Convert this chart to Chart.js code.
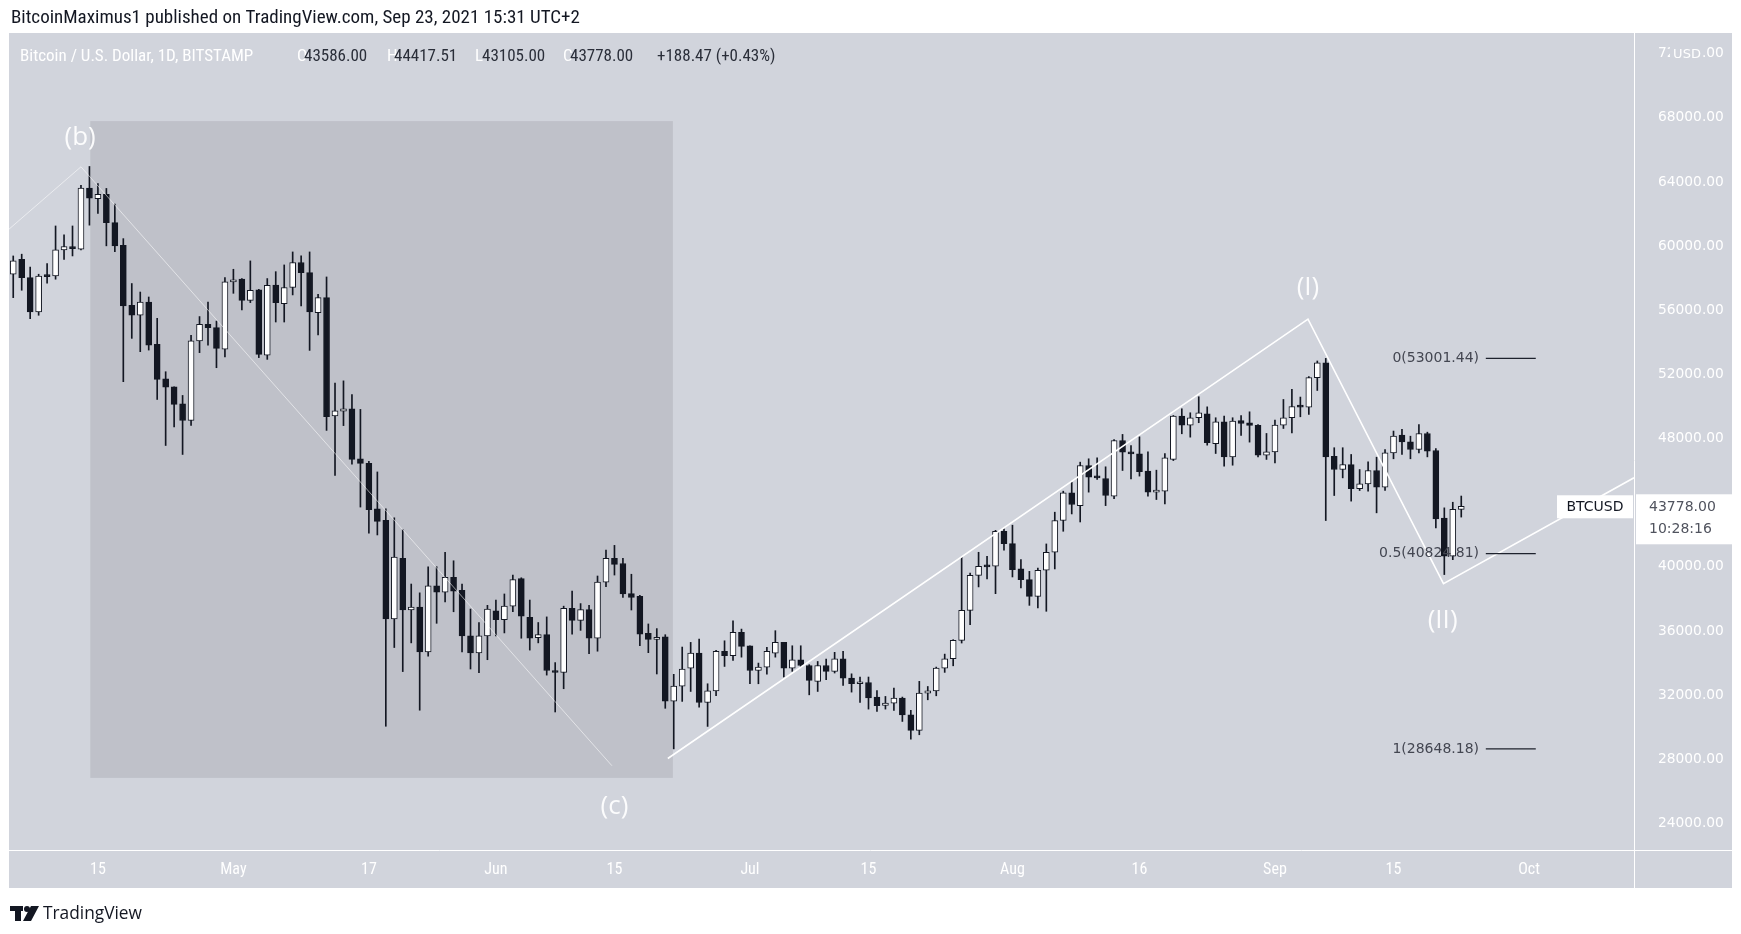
<!DOCTYPE html>
<html>
<head>
<meta charset="utf-8">
<title>BTCUSD 1D</title>
<script src="https://cdn.jsdelivr.net/npm/chart.js@4.4.0/dist/chart.umd.min.js"></script>
<style>
  html, body { margin: 0; padding: 0; background: #fff; }
  #chart { display: block; }
</style>
</head>
<body>
<canvas id="chart" width="1741" height="934"></canvas>
<script>
// first candle is Apr 5 2021, x = days from Apr 15
const firstOffset = -10

const opens = [
  58250, 59180, 58040, 55900, 58140, 58140, 59770, 59980, 59810, 63620, 62970, 63240, 61470, 60060, 56310, 55690, 56520, 53880, 51730, 51230, 50170, 49130, 54090, 55130, 54920, 53570,
  57770, 57940, 56620, 57270, 53210, 57580, 56420, 57420, 58980, 58350, 55860, 56790, 49420, 49710, 49860, 46740, 46450, 43620, 42900, 36750, 40540, 37310, 37490, 34700, 38820, 38420, 39340, 38530, 35700, 34630, 35700,
  37260, 36710, 37550, 39270, 36860, 35590, 35770, 33540, 33410, 37420, 36660, 37330, 35550, 39050, 40540, 40210, 38330, 38160, 35860, 35480, 35640, 31620, 32560, 33690, 34620, 31540, 32270, 34730, 34460, 35910,
  35080, 33540, 33750, 34620, 35290, 33690, 34210, 33850, 32860, 33850, 33480, 34270, 33060, 32710, 32790, 31880, 31360, 31500, 31820, 30770, 29800, 32130, 32270, 33690, 34270, 35420, 37290, 39470, 40040, 40040, 42220,
  41450, 39870, 39200, 38160, 39790, 40910, 42890, 44620, 43820, 46320, 45590, 45510, 44410, 47880, 47170, 47050, 45970, 44660, 44720, 46700, 49400, 48840, 49300, 49550, 47690, 49050, 46860, 49130, 48990, 48820, 46970,
  47170, 48840, 49300, 50030, 49960, 51800, 52730, 46900, 46070, 46380, 44870, 45180, 46010, 44970, 47110, 48220, 47800, 47320, 48320, 47260, 43050, 40660, 43586
]
const highs = [
  59390, 59500, 58700, 58250, 58910, 61260, 60700, 61260, 63800, 64970, 63910, 63600, 62620, 60470, 57670, 57140, 56830, 55500, 52170, 51230, 50690, 54440, 55610, 56520, 55330, 58040,
  58560, 57980, 59080, 57310, 57980, 58410, 58830, 59640, 59390, 59640, 57000, 58080, 51460, 51600, 50750, 49820, 46580, 45920, 43620, 43060, 42320, 38930, 38380, 40010, 40010, 40900, 40380, 38930, 37370, 36530, 37600,
  37930, 38310, 39490, 39320, 37930, 36530, 36880, 34030, 37550, 38490, 37710, 37600, 39430, 41050, 41340, 40540, 39540, 38220, 36440, 36150, 35770, 33300, 35000, 35290, 35500, 32710, 34790, 35390, 36640, 36120,
  35080, 34000, 34980, 36020, 35290, 35080, 35080, 33900, 34100, 34250, 34670, 34730, 33330, 33130, 33130, 32290, 31920, 32440, 31880, 31050, 32860, 32540, 33750, 34560, 35460, 40600, 39620, 40910, 40660, 42280, 42370,
  42600, 40450, 39720, 39930, 41430, 43410, 44720, 45280, 46530, 46740, 46800, 46240, 47940, 48260, 47570, 48110, 47170, 46030, 47070, 49440, 49860, 49610, 50610, 49980, 49300, 49400, 49300, 49440, 49670, 48880, 48320,
  49150, 50440, 51070, 50590, 51860, 52840, 53001.44, 47430, 47430, 47010, 46070, 46550, 46840, 47320, 48470, 48570, 48150, 48880, 48400, 47380, 43680, 44030, 44417.51
]
const lows = [
  56790, 57250, 55480, 55690, 57690, 57940, 59180, 59390, 59770, 61310, 62040, 60020, 59660, 51550, 54250, 53420, 53520, 50440, 47570, 48720, 47010, 48820, 53360, 53820, 52420, 53090,
  57060, 56020, 56480, 53050, 52940, 55270, 55270, 56960, 56270, 53500, 54460, 48510, 45700, 48810, 46410, 43730, 42100, 41990, 30060, 34970, 33470, 35260, 31060, 34430, 36480, 37820, 37200, 34700, 33630, 33400, 34210,
  35700, 35880, 37200, 35550, 34810, 35260, 33250, 30950, 32400, 35810, 36040, 34590, 34740, 38760, 39490, 38090, 37310, 35080, 34650, 33320, 31180, 28648.18, 31610, 32230, 31250, 30050, 31960, 33790, 34170, 34370,
  32710, 32710, 33310, 34370, 33130, 33480, 33750, 32020, 32230, 32960, 33380, 32600, 32190, 31540, 31130, 30980, 31130, 31050, 30360, 29260, 29530, 31710, 31960, 33420, 33830, 35250, 36400, 38750, 39250, 38330, 41040,
  39370, 38680, 37600, 37440, 37230, 39870, 42220, 43300, 42800, 44660, 45450, 43820, 44260, 46010, 45490, 45660, 44410, 44200, 43930, 46630, 48300, 48090, 48990, 47590, 47070, 46280, 46340, 48190, 47780, 46860, 46700,
  46490, 48630, 48360, 49360, 49510, 51000, 42890, 44450, 45550, 44100, 44760, 44720, 43370, 44760, 46740, 47010, 46740, 47110, 46860, 42430, 39520, 40450, 43105
]
const closes = [
  59080, 58040, 55900, 58140, 58100, 59770, 59980, 59850, 63620, 62990, 63240, 61470, 60020, 56270, 55690, 56520, 53820, 51690, 51210, 50130, 49130, 54090, 55130, 54920, 53630, 57770,
  57830, 56620, 57250, 53250, 57560, 56480, 57420, 58980, 58350, 55900, 56790, 49360, 49730, 49860, 46700, 46450, 43570, 42840, 36750, 40610, 37310, 37490, 34700, 38820, 38420, 39340, 38490, 35700, 34630, 35700, 37370,
  36710, 37550, 39200, 36930, 35550, 35770, 33540, 33410, 37420, 36660, 37330, 35550, 39050, 40540, 40160, 38310, 38090, 35810, 35480, 35550, 31620, 32560, 33630, 34620, 31540, 32270, 34730, 34460, 35910, 35040,
  33540, 33750, 34730, 35290, 33690, 34210, 33850, 32920, 33850, 33480, 34270, 33060, 32710, 32750, 31820, 31340, 31500, 31820, 30770, 29800, 32130, 32270, 33690, 34270, 35420, 37290, 39470, 40040, 40000, 42220, 41450,
  39830, 39200, 38160, 39790, 40910, 42890, 44620, 43890, 46320, 45590, 45550, 44450, 47880, 47150, 47050, 45930, 44660, 44720, 46800, 49400, 48840, 49300, 49610, 47740, 49050, 46860, 49090, 48940, 48820, 46970, 47170,
  48840, 49300, 50000, 49960, 51800, 52730, 46860, 46070, 46380, 44870, 45180, 46010, 44970, 47110, 48150, 47800, 47320, 48320, 47220, 42990, 40660, 43590, 43778
]

const xTickDays = [0, 16, 32, 47, 61, 77, 91, 108, 123, 139, 153, 169]
const xTickLabels = ['15', 'May', '17', 'Jun', '15', 'Jul', '15', 'Aug', '16', 'Sep', '15', 'Oct']
const priceTicks = [24000, 28000, 32000, 36000, 40000, 44000, 48000, 52000, 56000, 60000, 64000, 68000, 72000]

// drawings made on the chart
const lineBC = [{ x: -10.5, y: 61060 }, { x: -2, y: 64950 }, { x: 60.7, y: 27600 }]
const lineImpulse = [{ x: 67.3, y: 28050 }, { x: 142.9, y: 55450 }, { x: 158.9, y: 38950 }, { x: 181.4, y: 45560 }]
const boxX = [-0.9, 67.9]
const boxY = [26840, 67800]
const waveLabels = ['(b)', '(c)', '(I)', '(II)']
const waveX = [-2.1, 61, 142.9, 158.8]
const waveY = [66745, 25030, 57434, 36642]
const fibLevels = [53001.44, 40824.81, 28648.18]
const fibNames = ['0', '0.5', '1']

const header = 'BitcoinMaximus1 published on TradingView.com, Sep 23, 2021 15:31 UTC+2'
const symbolTitle = 'Bitcoin / U.S. Dollar, 1D, BITSTAMP'
const changeText = '+188.47 (+0.43%)'

const BG = '#d1d4dc'
const DARK = '#131722'
const NARROW = '"Liberation Sans Narrow", "Roboto Condensed", "Open Sans", sans-serif'

const last = closes.length - 1
const bodies = opens.map((o, i) => ({ x: i + firstOffset, y: [o, closes[i]] }))
const wicks = lows.map((l, i) => ({ x: i + firstOffset, y: [l, highs[i]] }))

function fitText (c, text, x, y, w) {
  const m = c.measureText(text).width
  c.save()
  c.translate(x, y)
  if (w && m > w) c.scale(w / m, 1)
  c.fillText(text, 0, 0)
  c.restore()
}

const panel = {
  id: 'panel',
  beforeDraw (chart) {
    const c = chart.ctx
    const a = chart.chartArea
    const right = chart.scales.y.right
    const bottom = chart.scales.x.bottom
    c.save()
    c.fillStyle = '#ffffff'
    c.fillRect(0, 0, chart.width, chart.height)
    c.fillStyle = BG
    c.fillRect(a.left, a.top, right - a.left, bottom - a.top)
    c.strokeStyle = '#ffffff'
    c.lineWidth = 1
    c.beginPath()
    c.moveTo(a.right + 0.5, a.top)
    c.lineTo(a.right + 0.5, bottom)
    c.moveTo(a.left, a.bottom + 0.5)
    c.lineTo(right, a.bottom + 0.5)
    c.stroke()
    c.restore()
  },
  beforeDatasetsDraw (chart) {
    const c = chart.ctx
    const sx = chart.scales.x
    const sy = chart.scales.y
    const x0 = sx.getPixelForValue(boxX[0])
    const x1 = sx.getPixelForValue(boxX[1])
    const y0 = sy.getPixelForValue(boxY[1])
    const y1 = sy.getPixelForValue(boxY[0])
    c.save()
    c.fillStyle = '#bfc1c9'
    c.fillRect(x0, y0, x1 - x0, y1 - y0)
    c.restore()
  },
  afterDraw (chart) {
    const c = chart.ctx
    const a = chart.chartArea
    const sx = chart.scales.x
    const sy = chart.scales.y
    c.save()
    c.textBaseline = 'middle'

    // header above the panel
    c.fillStyle = DARK
    c.font = '19px ' + NARROW
    fitText(c, header, 11, 18, 573)

    // symbol legend
    c.font = '17px ' + NARROW
    c.fillStyle = '#ffffff'
    fitText(c, symbolTitle, 20, 57, 268)
    const ohlc = [['O', opens[last]], ['H', highs[last]], ['L', lows[last]], ['C', closes[last]]]
    const ohlcX = [297, 387, 475, 563]
    ohlc.forEach((p, i) => {
      c.fillStyle = '#ffffff'
      c.fillText(p[0], ohlcX[i], 57)
      c.fillStyle = '#2a2e39'
      fitText(c, p[1].toFixed(2), ohlcX[i] + 7, 57, 80)
    })
    fitText(c, changeText, 657, 57, 131)

    // wave labels
    c.fillStyle = 'rgba(255,255,255,0.92)'
    c.font = '26px "Open Sans", "DejaVu Sans", sans-serif'
    c.textAlign = 'center'
    waveLabels.forEach((t, i) => {
      c.fillText(t, sx.getPixelForValue(waveX[i]), sy.getPixelForValue(waveY[i]))
    })

    // fib levels
    c.font = '14px "DejaVu Sans", sans-serif'
    c.textAlign = 'right'
    c.strokeStyle = '#1e222d'
    c.lineWidth = 1.4
    fibLevels.forEach((v, i) => {
      const y = sy.getPixelForValue(v)
      c.fillStyle = '#434651'
      c.fillText(fibNames[i] + '(' + v.toFixed(2) + ')', sx.getPixelForValue(163.1), y)
      c.beginPath()
      c.moveTo(sx.getPixelForValue(163.9), y)
      c.lineTo(sx.getPixelForValue(169.8), y)
      c.stroke()
    })

    // symbol tag at the right edge of the plot
    const py = sy.getPixelForValue(closes[last])
    c.fillStyle = '#ffffff'
    c.fillRect(a.right - 77, py - 11, 76, 23)
    c.fillStyle = DARK
    c.textAlign = 'center'
    c.fillText('BTCUSD', a.right - 39, py + 1)

    // last price tag on the price axis
    c.fillStyle = '#ffffff'
    c.fillRect(a.right + 2, py - 12, 96, 50)
    c.fillStyle = '#50535e'
    c.textAlign = 'left'
    c.font = '14px "DejaVu Sans", sans-serif'
    c.fillText(closes[last].toFixed(2), a.right + 15, py + 1)
    c.fillText('10:28:16', a.right + 15, py + 23)

    // currency over the top tick
    const uy = sy.getPixelForValue(72000)
    c.fillStyle = BG
    c.fillRect(a.right + 36, uy - 10, 33, 20)
    c.fillStyle = '#ffffff'
    c.textAlign = 'center'
    c.font = '13px "DejaVu Sans", sans-serif'
    c.fillText('USD', a.right + 53, uy + 1)

    // footer logo and name
    c.fillStyle = DARK
    c.fillRect(10, 906, 13, 5)
    c.fillRect(15, 906, 6, 15)
    c.beginPath()
    c.arc(27, 909, 3, 0, Math.PI * 2)
    c.fill()
    c.beginPath()
    c.moveTo(31, 906)
    c.lineTo(39, 906)
    c.lineTo(31, 921)
    c.lineTo(23, 921)
    c.closePath()
    c.fill()
    c.textAlign = 'left'
    c.font = '19px "Open Sans", sans-serif'
    fitText(c, 'TradingView', 43, 914, 99)

    c.restore()
  }
}

new Chart(document.getElementById('chart'), {
  type: 'bar',
  data: {
    datasets: [
      {
        type: 'line',
        label: 'b-c',
        data: lineBC,
        borderColor: 'rgba(255,255,255,0.55)',
        borderWidth: 1,
        pointRadius: 0,
        tension: 0,
        order: 1
      },
      {
        type: 'line',
        label: 'impulse',
        data: lineImpulse,
        borderColor: '#ffffff',
        borderWidth: 1.6,
        pointRadius: 0,
        tension: 0,
        order: 0
      },
      {
        label: 'body',
        data: bodies,
        backgroundColor: (ctx) => (ctx.dataIndex !== undefined && closes[ctx.dataIndex] < opens[ctx.dataIndex]) ? DARK : '#ffffff',
        borderColor: DARK,
        borderWidth: 1,
        borderSkipped: false,
        barThickness: 6,
        minBarLength: 2,
        grouped: false,
        order: 2
      },
      {
        label: 'wick',
        data: wicks,
        backgroundColor: DARK,
        barThickness: 1,
        grouped: false,
        order: 3
      }
    ]
  },
  options: {
    responsive: false,
    animation: false,
    layout: { padding: { left: 9, top: 33, right: 9, bottom: 46 } },
    plugins: { legend: { display: false }, tooltip: { enabled: false } },
    scales: {
      x: {
        type: 'linear',
        min: -10.5,
        max: 181.4,
        offset: false,
        grid: { display: false },
        border: { display: false },
        afterBuildTicks: (s) => { s.ticks = xTickDays.map(v => ({ value: v })) },
        afterFit: (s) => { s.height = 38 },
        ticks: {
          autoSkip: false,
          maxRotation: 0,
          color: '#ffffff',
          padding: 2,
          font: { family: NARROW, size: 16 },
          callback: (v) => xTickLabels[xTickDays.indexOf(v)]
        }
      },
      y: {
        type: 'linear',
        position: 'right',
        min: 22343,
        max: 73294,
        grid: { display: false },
        border: { display: false },
        afterBuildTicks: (s) => { s.ticks = priceTicks.map(v => ({ value: v })) },
        afterFit: (s) => { s.width = 98 },
        ticks: {
          color: '#ffffff',
          padding: 16,
          font: { family: 'DejaVu Sans', size: 13.8 },
          callback: (v) => v.toFixed(2)
        }
      }
    }
  },
  plugins: [panel]
})
</script>
</body>
</html>
